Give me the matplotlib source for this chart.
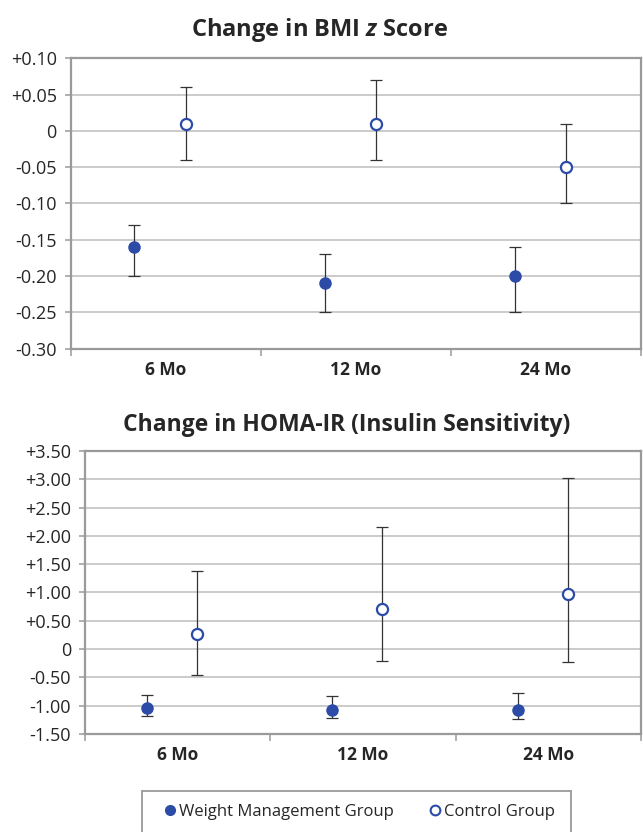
import numpy as np
import matplotlib
matplotlib.use("Agg")
import matplotlib.pyplot as plt
from matplotlib.patches import Rectangle
from matplotlib.lines import Line2D

BLUE = "#2B4BA6"
INK = "#262626"
GRID = "#BDBDBD"
FRAME = "#9A9A9A"

categories = ["6 Mo", "12 Mo", "24 Mo"]

# BMI z score change
bmi_wm = [-0.16, -0.21, -0.20]
bmi_wm_lo = [-0.20, -0.25, -0.25]
bmi_wm_hi = [-0.13, -0.17, -0.16]
bmi_ctrl = [0.01, 0.01, -0.05]
bmi_ctrl_lo = [-0.04, -0.04, -0.10]
bmi_ctrl_hi = [0.06, 0.07, 0.01]
bmi_ticks = [-0.30, -0.25, -0.20, -0.15, -0.10, -0.05, 0, 0.05, 0.10]
bmi_ticklabels = ["-0.30", "-0.25", "-0.20", "-0.15", "-0.10", "-0.05", "0", "+0.05", "+0.10"]

# HOMA-IR change
homa_wm = [-1.04, -1.08, -1.08]
homa_wm_lo = [-1.19, -1.22, -1.24]
homa_wm_hi = [-0.81, -0.83, -0.77]
homa_ctrl = [0.26, 0.71, 0.98]
homa_ctrl_lo = [-0.46, -0.22, -0.23]
homa_ctrl_hi = [1.37, 2.15, 3.03]
homa_ticks = [-1.5, -1.0, -0.5, 0, 0.5, 1.0, 1.5, 2.0, 2.5, 3.0, 3.5]
homa_ticklabels = ["-1.50", "-1.00", "-0.50", "0", "+0.50", "+1.00", "+1.50",
                   "+2.00", "+2.50", "+3.00", "+3.50"]

plt.rcParams.update({"font.family": ["Open Sans", "DejaVu Sans"], "font.size": 12,
                     "text.color": INK, "mathtext.fontset": "custom",
                     "mathtext.it": "Open Sans:italic:bold",
                     "mathtext.rm": "Open Sans:bold"})

fig = plt.figure(figsize=(6.43, 8.32), dpi=100)


def panel(ax, wm, wm_lo, wm_hi, ct, ct_lo, ct_hi, ticks, ticklabels):
    x = np.arange(len(categories)) + 0.5
    xw = x - 0.165
    xc = x + 0.105
    wm, ct = np.array(wm), np.array(ct)
    ax.errorbar(xw, wm, yerr=[wm - np.array(wm_lo), np.array(wm_hi) - wm],
                fmt="none", ecolor="#333333", elinewidth=0.9, capsize=4, capthick=0.9, zorder=3)
    ax.errorbar(xc, ct, yerr=[ct - np.array(ct_lo), np.array(ct_hi) - ct],
                fmt="none", ecolor="#333333", elinewidth=0.9, capsize=4, capthick=0.9, zorder=3)
    ax.plot(xw, wm, "o", ms=8, color=BLUE, mec=BLUE, zorder=4)
    ax.plot(xc, ct, "o", ms=8, mfc="white", mec=BLUE, mew=1.6, zorder=4)
    ax.set_xlim(0, 3)
    ax.set_ylim(ticks[0], ticks[-1])
    ax.set_yticks(ticks)
    ax.set_yticklabels(ticklabels, fontsize=13, color=INK)
    ax.grid(axis="y", color=GRID, lw=1.1)
    ax.set_axisbelow(True)
    ax.set_xticks([0, 1, 2, 3])
    ax.set_xticklabels([])
    ax.set_xticks(x, minor=True)
    ax.set_xticklabels(categories, minor=True, fontsize=12.5, fontweight="bold", color=INK)
    ax.tick_params(axis="x", which="minor", length=0, pad=9)
    ax.tick_params(axis="x", which="major", length=5, color=FRAME, width=1.1)
    ax.tick_params(axis="y", length=4, color=FRAME, width=1.1, pad=6)
    for s in ax.spines.values():
        s.set_color(FRAME)
        s.set_linewidth(1.6)


ax1 = fig.add_axes([0.110, 0.581, 0.887, 0.349])
panel(ax1, bmi_wm, bmi_wm_lo, bmi_wm_hi,
      bmi_ctrl, bmi_ctrl_lo, bmi_ctrl_hi, bmi_ticks, bmi_ticklabels)
fig.text(320 / 643, 1 - 30 / 832, "Change in BMI $\\mathit{z}$ Score", ha="center",
         va="center", fontsize=17, fontweight="bold", color=INK)

ax2 = fig.add_axes([0.132, 0.118, 0.865, 0.340])
panel(ax2, homa_wm, homa_wm_lo, homa_wm_hi,
      homa_ctrl, homa_ctrl_lo, homa_ctrl_hi, homa_ticks, homa_ticklabels)
fig.text(347 / 643, 1 - 425 / 832, "Change in HOMA-IR (Insulin Sensitivity)", ha="center",
         va="center", fontsize=16.5, fontweight="bold", color=INK)

# legend box (runs off the bottom edge like the original)
fig.patches.append(Rectangle((142 / 643, -0.02), (571 - 142) / 643, 0.02 + 1 - 791 / 832,
                             transform=fig.transFigure, fill=False,
                             edgecolor=FRAME, lw=1.3))
handles = [Line2D([], [], ls="none", marker="o", ms=7, color=BLUE),
           Line2D([], [], ls="none", marker="o", ms=7, mfc="white", mec=BLUE, mew=1.5)]
fig.legend(handles, ["Weight Management Group", "Control Group"], loc="center",
           bbox_to_anchor=(0.557, 1 - 812 / 832), ncol=2, frameon=False,
           fontsize=12, handletextpad=0.05, columnspacing=2.0, handlelength=1.0)

fig.savefig("out.png", dpi=100)
